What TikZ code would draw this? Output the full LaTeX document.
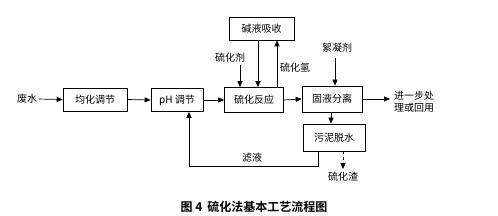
\documentclass[tikz,border=0pt]{standalone}
\usepackage{fontspec}
\setmainfont{Noto Sans CJK SC}
\newfontfamily\capfont{Noto Sans CJK SC Bold}
\usetikzlibrary{arrows.meta}
\tikzset{
  box/.style={draw, line width=0.7pt, inner sep=0pt, font=\fontsize{10}{12}\selectfont},
  lbl/.style={inner sep=0pt, font=\fontsize{10}{12}\selectfont},
  flow/.style={line width=0.7pt, -{Triangle[length=6pt,width=5pt]}},
}
\begin{document}
\begin{tikzpicture}[x=1pt,y=-1pt]
\useasboundingbox (0,0) rectangle (498,216);
\node[lbl] (fs) at (27,99) {废水};
\node[box, minimum width=64pt, minimum height=23pt] (jh) at (95,99.5) {均化调节};
\node[box, minimum width=52pt, minimum height=23pt] (ph) at (177,100) {pH 调节};
\node[box, minimum width=59pt, minimum height=25pt] (fy) at (254,100) {硫化反应};
\node[box, minimum width=65pt, minimum height=23pt] (jy) at (261.5,28.5) {碱液吸收};
\node[box, minimum width=60pt, minimum height=26pt] (gy) at (332,99) {固液分离};
\node[box, minimum width=62pt, minimum height=27pt] (wn) at (334,137.5) {污泥脱水};
\node[lbl] (lhj) at (230,58) {硫化剂};
\node[lbl] (lhq) at (295,68) {硫化氢};
\node[lbl] (xnj) at (337,48) {絮凝剂};
\node[lbl, align=left] (out) at (414,101.5) {进一步处\\理或回用};
\node[lbl] (lhz) at (343,177) {硫化渣};
\node[lbl] (ly) at (252,158) {滤液};
\node[inner sep=0pt, font=\capfont\fontsize{12}{14}\selectfont] (cap) at (254,207) {图 4\, 硫化法基本工艺流程图};
\coordinate (c1) at (240,65);
\coordinate (c2) at (335,58);
\coordinate (c3) at (390,99);
\coordinate (c4) at (343,169);
\draw[flow, shorten <=2pt] (fs.east) -- (jh.west);
\draw[flow] (jh.east) -- (ph.west);
\draw[flow] (ph.east) -- (fy.west);
\draw[flow] (fy.east) -- (gy.west);
\draw[flow] (gy.east) -- (c3);
\draw[flow] (c1) -- (c1 |- fy.north);
\draw[flow] (258,0 |- jy.south) -- (258,0 |- fy.north);
\draw[flow] (277,0 |- fy.north) -- (277,0 |- jy.south);
\draw[flow] (c2) -- (c2 |- gy.north);
\draw[flow] (331,0 |- gy.south) -- (331,0 |- wn.north);
\draw[flow, dashed] (343,0 |- wn.south) -- (c4);
\draw[flow] (318,0 |- wn.south) -- (318,166) -- (189,166) -- (189,0 |- ph.south);
\end{tikzpicture}
\end{document}
